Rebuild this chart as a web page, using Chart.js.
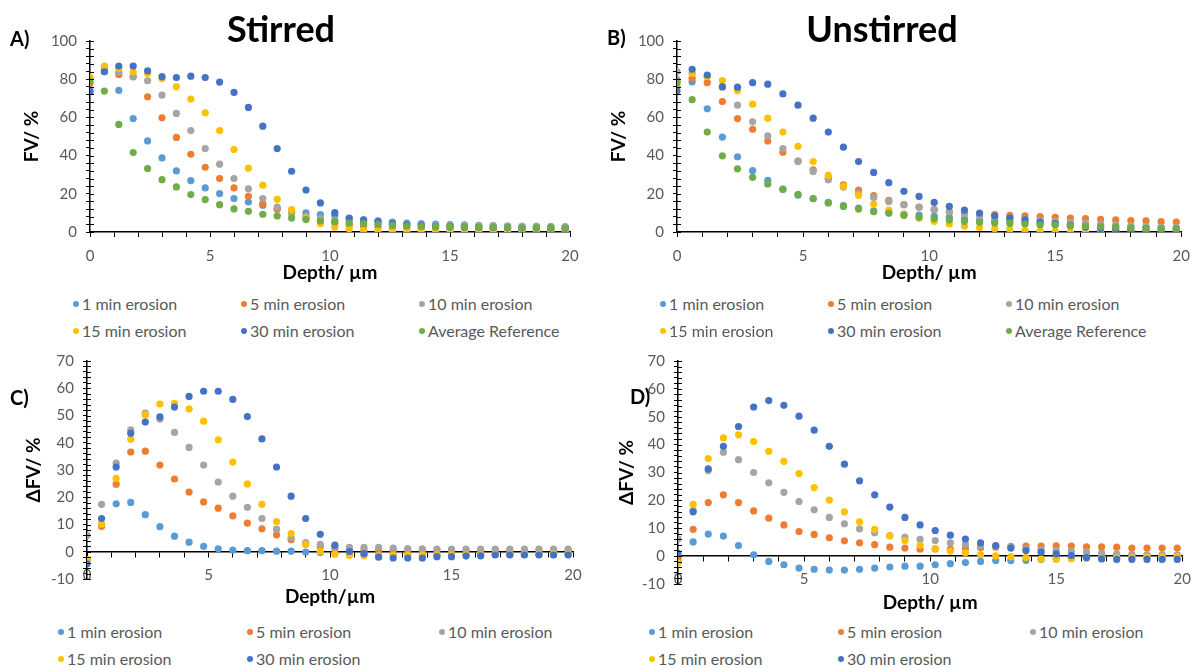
<!DOCTYPE html>
<html>
<head>
<meta charset="utf-8">
<title>FV depth profiles - stirred vs unstirred</title>
<script src="https://cdn.jsdelivr.net/npm/chart.js@4.4.0/dist/chart.umd.min.js"></script>
<style>
  body { margin: 0; background: #fff; font-family: Lato, 'Open Sans', sans-serif; }
  #page { position: relative; width: 1200px; height: 668px; overflow: hidden; background: #fff; }
  .panel { position: absolute; }
  .heading { position: absolute; font-weight: bold; font-size: 36px; line-height: 36px; color: #000; transform: translateX(-50%); white-space: nowrap; }
  .tag { position: absolute; font-weight: bold; font-size: 20px; line-height: 20px; color: #000; }
  .legend-item { position: absolute; font-size: 16px; line-height: 18px; color: #595959; white-space: nowrap; transform: translateY(-50%); }
  .legend-item .dot { position: absolute; left: -9px; top: 6px; width: 6px; height: 6px; border-radius: 50%; }
</style>
</head>
<body>
<div id="page">
  <div class="panel" id="panelA"><canvas id="chartA"></canvas></div>
  <div class="panel" id="panelB"><canvas id="chartB"></canvas></div>
  <div class="panel" id="panelC"><canvas id="chartC"></canvas></div>
  <div class="panel" id="panelD"><canvas id="chartD"></canvas></div>

  <div class="heading" style="left:281px;top:10px">Stirred</div>
  <div class="heading" style="left:882px;top:10px">Unstirred</div>
  <div class="tag" style="left:10px;top:28px">A)</div>
  <div class="tag" style="left:607px;top:27px">B)</div>
  <div class="tag" style="left:10px;top:387px">C)</div>
  <div class="tag" style="left:630px;top:386px">D)</div>
</div>

<script>
// Depth (µm) - shared x values for every panel
const depth = [0, 0.6, 1.2, 1.8, 2.4, 3.0, 3.6, 4.2, 4.8, 5.4, 6.0, 6.6, 7.2, 7.8, 8.4, 9.0, 9.6,
  10.2, 10.8, 11.4, 12.0, 12.6, 13.2, 13.8, 14.4, 15.0, 15.6, 16.2, 16.8, 17.4, 18.0, 18.6, 19.2, 19.8];

const seriesLabels = ['1 min erosion', '5 min erosion', '10 min erosion', '15 min erosion', '30 min erosion', 'Average Reference'];
const seriesColors = ['#5B9BD5', '#ED7D31', '#A5A5A5', '#FFC000', '#4472C4', '#70AD47'];

// Tick labels
const depthTicks = [0, 5, 10, 15, 20];
const fvTicks = [0, 20, 40, 60, 80, 100];
const dfvTicks = [-10, 0, 10, 20, 30, 40, 50, 60, 70];

// A) Stirred - FV / %
const fvStirred1 = [74.3, 84.0, 74.1, 59.4, 47.7, 38.8, 32.0, 26.9, 23.1, 20.1, 17.5, 15.7, 14.0, 12.2, 10.8, 10.0, 9.1, 8.6, 7.0, 6.5, 5.8, 5.2, 4.7, 4.4, 4.1, 3.9, 3.7, 3.5, 3.3, 3.1, 3.0, 2.9, 2.8, 2.7];
const fvStirred5 = [77.8, 85.5, 82.5, 81.3, 70.8, 59.8, 49.5, 40.7, 33.9, 28.0, 23.1, 18.7, 14.7, 11.9, 10.0, 7.9, 5.8, 4.7, 3.5, 3.0, 2.6, 2.3, 2.1, 1.9, 1.8, 1.7, 1.6, 1.5, 1.5, 1.4, 1.4, 1.3, 1.3, 1.2];
const fvStirred10 = [80.4, 86.5, 83.6, 81.3, 79.2, 71.7, 62.1, 53.1, 43.7, 35.5, 28.0, 22.6, 17.5, 13.1, 10.0, 8.2, 7.0, 6.1, 5.2, 4.8, 4.4, 4.1, 3.9, 3.7, 3.5, 3.4, 3.3, 3.2, 3.1, 3.0, 2.9, 2.9, 2.8, 2.8];
const fvStirred15 = [81.0, 86.9, 85.7, 83.9, 83.0, 80.4, 76.0, 69.6, 62.4, 53.1, 43.2, 33.4, 24.5, 17.1, 11.7, 7.3, 4.4, 2.6, 1.6, 0.9, 0.6, 0.5, 0.4, 0.4, 0.3, 0.3, 0.3, 0.3, 0.3, 0.2, 0.2, 0.2, 0.2, 0.2];
const fvStirred30 = [73.4, 83.9, 86.9, 86.9, 84.4, 81.3, 80.9, 81.6, 80.9, 78.5, 73.1, 65.2, 55.4, 43.7, 31.8, 22.0, 15.2, 10.1, 7.3, 6.1, 5.6, 4.4, 3.8, 3.5, 3.0, 2.8, 2.6, 2.4, 2.3, 2.2, 2.1, 2.0, 2.0, 1.9];
const fvStirredRef = [79.0, 73.8, 56.3, 41.6, 33.2, 27.4, 23.6, 19.6, 17.0, 14.3, 12.1, 10.8, 9.3, 8.4, 7.3, 6.5, 5.8, 5.4, 4.7, 4.4, 4.0, 3.5, 3.1, 2.9, 2.7, 2.6, 2.5, 2.4, 2.3, 2.2, 2.1, 2.0, 2.0, 1.9];

// B) Unstirred - FV / %
const fvUnstirred1 = [79.6, 78.6, 64.5, 49.7, 39.4, 32.1, 27.0, 22.5, 19.3, 17.5, 15.5, 13.8, 12.5, 11.1, 10.3, 9.4, 8.9, 8.2, 7.7, 7.0, 6.4, 5.8, 5.3, 4.8, 4.4, 4.0, 3.6, 3.3, 3.0, 2.8, 2.6, 2.4, 2.2, 2.0];
const fvUnstirred5 = [78.7, 80.5, 78.2, 68.3, 59.4, 53.8, 47.7, 41.8, 37.1, 32.6, 28.2, 24.7, 22.0, 19.0, 16.6, 14.3, 13.1, 11.7, 10.5, 9.9, 9.4, 9.1, 8.7, 8.5, 8.0, 7.7, 7.3, 7.0, 6.6, 6.3, 6.0, 5.8, 5.4, 5.2];
const fvUnstirred10 = [84.0, 83.0, 81.5, 75.8, 66.4, 57.7, 50.3, 43.6, 37.1, 31.7, 27.4, 23.5, 20.4, 18.1, 16.0, 14.3, 12.9, 11.7, 10.6, 9.6, 8.5, 7.8, 7.3, 6.8, 6.1, 5.6, 5.1, 4.5, 4.0, 3.7, 3.3, 3.0, 2.6, 2.4];
const fvUnstirred15 = [76.0, 83.1, 81.4, 79.3, 74.0, 66.9, 59.6, 52.3, 44.9, 36.9, 29.6, 23.9, 19.2, 14.6, 11.5, 9.1, 7.3, 5.6, 4.2, 3.0, 2.3, 1.7, 1.2, 0.9, 0.5, 0.3, 0.1, 0.1, 0.0, 0.0, 0.0, 0.0, 0.0, 0.0];
const fvUnstirred30 = [73.9, 85.2, 82.2, 76.1, 75.8, 78.2, 77.4, 72.3, 66.4, 59.6, 52.3, 44.4, 36.9, 31.2, 25.8, 21.3, 18.6, 15.5, 13.4, 11.5, 9.9, 8.5, 7.3, 6.3, 5.2, 4.4, 3.5, 2.6, 1.7, 1.2, 0.9, 0.7, 0.5, 0.3];
const fvUnstirredRef = [77.9, 69.3, 52.3, 39.9, 33.1, 28.6, 25.1, 22.3, 19.7, 17.4, 15.2, 13.4, 12.0, 10.6, 9.8, 8.7, 7.7, 7.0, 6.3, 5.6, 5.1, 4.7, 4.5, 4.2, 3.8, 3.7, 3.3, 3.1, 2.8, 2.6, 2.2, 1.9, 1.8, 1.6];

// C) Stirred - ΔFV / %
const dfvStirred1 = [-3.0, 10.0, 17.6, 18.1, 13.6, 9.2, 5.7, 3.5, 2.0, 1.1, 0.6, 0.4, 0.4, 0.2, 0.2, -0.1, -0.3, -0.5, -0.6, -0.7, -0.8, -0.9, -1.0, -1.0, -1.0, -1.0, -1.0, -1.0, -1.0, -0.9, -0.9, -0.9, -0.8, -0.8];
const dfvStirred5 = [-3.0, 9.3, 24.8, 36.6, 36.9, 31.8, 26.7, 21.9, 18.3, 16.0, 13.2, 10.5, 8.4, 6.2, 4.4, 3.0, 1.9, 1.2, 0.8, 0.6, 0.5, 0.4, 0.4, 0.3, 0.3, 0.3, 0.3, 0.3, 0.3, 0.3, 0.3, 0.3, 0.3, 0.3];
const dfvStirred10 = [6.1, 17.4, 32.5, 44.7, 50.9, 48.7, 43.8, 38.3, 31.8, 25.6, 20.4, 16.3, 12.2, 8.3, 5.1, 3.4, 2.7, 1.7, 1.6, 1.6, 1.6, 1.3, 1.2, 1.1, 1.0, 1.0, 1.0, 1.0, 1.0, 1.0, 1.0, 1.0, 1.0, 1.0];
const dfvStirred15 = [-2.9, 10.1, 26.9, 41.3, 50.2, 54.2, 54.5, 52.4, 47.9, 41.1, 32.9, 24.9, 17.4, 11.1, 6.7, 2.7, 0.1, -0.9, -1.3, -1.5, -1.4, -1.3, -1.3, -1.2, -1.2, -1.2, -1.1, -1.1, -1.0, -1.0, -1.0, -0.9, -0.9, -0.9];
const dfvStirred30 = [-4.4, 12.2, 31.1, 43.5, 47.6, 49.5, 53.1, 57.0, 58.9, 58.9, 55.9, 49.6, 41.4, 31.1, 20.4, 12.2, 6.4, 2.4, 0.1, -0.7, -2.0, -2.3, -2.3, -2.3, -1.8, -1.8, -1.6, -1.5, -1.2, -1.2, -1.2, -1.2, -1.2, -1.2];

// D) Unstirred - ΔFV / %
const dfvUnstirred1 = [-1.5, 5.1, 7.9, 7.2, 3.8, 0.5, -1.9, -3.1, -4.3, -4.7, -5.0, -5.0, -4.7, -4.3, -3.9, -3.6, -3.6, -3.1, -2.7, -2.3, -1.9, -1.6, -1.6, -1.5, -1.2, -1.0, -0.8, -0.4, -0.2, 0.0, 0.1, 0.2, 0.3, 0.3];
const dfvUnstirred5 = [-0.4, 9.6, 19.2, 22.0, 19.2, 16.2, 13.6, 11.2, 8.8, 7.8, 6.6, 5.5, 4.8, 4.1, 3.2, 2.9, 2.5, 2.6, 2.5, 2.7, 3.0, 3.2, 3.5, 3.6, 3.6, 3.7, 3.6, 3.3, 3.3, 3.2, 2.9, 2.9, 2.9, 2.9];
const dfvUnstirred10 = [6.2, 16.4, 30.7, 37.3, 34.6, 30.0, 26.3, 22.9, 19.6, 16.6, 13.9, 11.6, 9.8, 8.4, 7.4, 6.8, 6.0, 5.6, 4.8, 4.2, 3.7, 3.6, 3.2, 2.6, 2.3, 2.0, 1.8, 1.4, 1.1, 0.8, 0.6, 0.5, 0.5, 0.5];
const dfvUnstirred15 = [-2.5, 18.6, 35.0, 42.4, 43.5, 41.1, 37.6, 34.0, 29.6, 24.6, 20.1, 15.9, 12.3, 9.6, 7.2, 5.6, 3.9, 2.7, 1.8, 1.2, 0.5, 0.1, -0.2, -0.5, -1.0, -1.0, -0.9, -0.8, -0.7, -0.6, -0.5, -0.3, -0.2, -0.1];
const dfvUnstirred30 = [1.1, 15.9, 31.3, 39.4, 46.5, 53.5, 55.8, 54.1, 50.2, 45.2, 39.4, 33.0, 27.0, 22.0, 17.6, 13.9, 11.2, 9.2, 7.5, 6.1, 4.8, 3.8, 2.9, 2.0, 1.4, 0.8, 0.2, -0.5, -1.0, -1.2, -1.2, -1.2, -1.2, -1.2];

const FONT = 'Lato, "Open Sans", sans-serif';

// Excel draws the y tick marks across the axis: add the inner half
const crossTicks = {
  id: 'crossTicks',
  afterDraw(chart) {
    const y = chart.scales.y;
    const ctx = chart.ctx;
    const x0 = chart.chartArea.left;
    ctx.save();
    ctx.strokeStyle = '#000';
    ctx.lineWidth = 1;
    y.ticks.forEach(t => {
      const py = Math.round(y.getPixelForValue(t.value)) + 0.5;
      ctx.beginPath();
      ctx.moveTo(x0, py);
      ctx.lineTo(x0 + 4, py);
      ctx.stroke();
    });
    ctx.restore();
  }
};

// Build one scatter panel so that its plot area lands where the reference has it
function makePanel(cfg) {
  const wrap = document.getElementById(cfg.id);
  const b = cfg.box;
  wrap.style.left = b.left + 'px';
  wrap.style.top = b.top + 'px';
  const canvas = wrap.querySelector('canvas');
  canvas.width = b.width;
  canvas.height = b.height;
  canvas.style.width = b.width + 'px';
  canvas.style.height = b.height + 'px';

  const yWidth = cfg.plot.left - b.left;
  const padBottom = b.top + b.height - cfg.plot.bottom - (cfg.xAtZero ? 0 : cfg.xHeight);

  const datasets = cfg.series.map((values, i) => ({
    label: seriesLabels[i],
    data: depth.map((d, j) => ({ x: d, y: values[j] })),
    backgroundColor: seriesColors[i],
    borderColor: seriesColors[i],
    pointRadius: 3.6,
    pointBorderWidth: 0,
    pointHoverRadius: 3.6,
    showLine: false,
    order: cfg.series.length - i // later series on top, like Excel
  }));

  new Chart(canvas, {
    type: 'scatter',
    data: { datasets },
    plugins: [crossTicks],
    options: {
      responsive: false,
      animation: false,
      devicePixelRatio: 1,
      events: [],
      layout: {
        padding: { left: 0, top: cfg.plot.top - b.top, right: b.left + b.width - cfg.plot.right, bottom: padBottom }
      },
      plugins: { legend: { display: false }, tooltip: { enabled: false } },
      scales: {
        x: {
          type: 'linear',
          min: 0,
          max: 20,
          position: cfg.xAtZero ? { y: 0 } : 'bottom',
          afterFit: s => { s.height = cfg.xHeight; },
          ticks: {
            stepSize: 1,
            autoSkip: false,
            maxRotation: 0,
            padding: cfg.xTickPad,
            color: '#595959',
            font: { family: FONT, size: 15 },
            callback: v => (depthTicks.includes(v) ? v : '')
          },
          grid: { drawOnChartArea: false, drawTicks: true, tickLength: 5, tickColor: '#000' },
          border: { color: '#000', width: 1.5 },
          title: {
            display: true,
            text: cfg.xTitle,
            color: '#000',
            font: { family: FONT, size: 19, weight: 'bold' },
            padding: { top: 0, bottom: 0 }
          }
        },
        y: {
          type: 'linear',
          min: cfg.yMin,
          max: cfg.yMax,
          afterFit: s => { s.width = yWidth; },
          ticks: {
            stepSize: cfg.yStep,
            autoSkip: false,
            padding: 9,
            color: '#595959',
            font: { family: FONT, size: 15 },
            callback: v => (cfg.yTicks.includes(v) ? v : '')
          },
          grid: { drawOnChartArea: false, drawTicks: true, tickLength: 4, tickColor: '#000' },
          border: { color: '#000', width: 1.5 },
          title: {
            display: true,
            text: cfg.yTitle,
            color: '#000',
            font: { family: FONT, size: 19, weight: 'bold' },
            padding: { top: cfg.yTitlePad, bottom: 0 }
          }
        }
      }
    }
  });
}

// HTML legend laid out in three columns like the reference
function makeLegend(count, cols, rows) {
  const page = document.getElementById('page');
  for (let i = 0; i < count; i++) {
    const item = document.createElement('div');
    item.className = 'legend-item';
    item.style.left = cols[i % 3] + 'px';
    item.style.top = rows[Math.floor(i / 3)] + 'px';
    item.innerHTML = `<span class="dot" style="background:${seriesColors[i]}"></span>${seriesLabels[i]}`;
    page.appendChild(item);
  }
}

makePanel({
  id: 'panelA', box: { left: 0, top: 0, width: 600, height: 290 },
  plot: { left: 90, right: 570, top: 41, bottom: 232 },
  xHeight: 52, xTickPad: 10, xAtZero: false,
  yMin: 0, yMax: 100, yStep: 4, yTicks: fvTicks,
  xTitle: 'Depth/ µm', yTitle: 'FV/ %', yTitlePad: 20,
  series: [fvStirred1, fvStirred5, fvStirred10, fvStirred15, fvStirred30, fvStirredRef]
});

makePanel({
  id: 'panelB', box: { left: 600, top: 0, width: 600, height: 290 },
  plot: { left: 677, right: 1186, top: 41, bottom: 232 },
  xHeight: 52, xTickPad: 10, xAtZero: false,
  yMin: 0, yMax: 100, yStep: 4, yTicks: fvTicks,
  xTitle: 'Depth/ µm', yTitle: 'FV/ %', yTitlePad: 7,
  series: [fvUnstirred1, fvUnstirred5, fvUnstirred10, fvUnstirred15, fvUnstirred30, fvUnstirredRef]
});

makePanel({
  id: 'panelC', box: { left: 0, top: 340, width: 600, height: 280 },
  plot: { left: 87, right: 573, top: 361, bottom: 579 },
  xHeight: 57, xTickPad: 9, xAtZero: true,
  yMin: -10, yMax: 70, yStep: 2, yTicks: dfvTicks,
  xTitle: 'Depth/µm', yTitle: 'ΔFV/ %', yTitlePad: 22,
  series: [dfvStirred1, dfvStirred5, dfvStirred10, dfvStirred15, dfvStirred30]
});

makePanel({
  id: 'panelD', box: { left: 600, top: 340, width: 600, height: 280 },
  plot: { left: 678, right: 1186, top: 361, bottom: 584 },
  xHeight: 58, xTickPad: 9, xAtZero: true,
  yMin: -10, yMax: 70, yStep: 2, yTicks: dfvTicks,
  xTitle: 'Depth/ µm', yTitle: 'ΔFV/ %', yTitlePad: 15,
  series: [dfvUnstirred1, dfvUnstirred5, dfvUnstirred10, dfvUnstirred15, dfvUnstirred30]
});

makeLegend(6, [82, 250, 428], [304, 331]);
makeLegend(6, [669, 837, 1015], [304, 331]);
makeLegend(5, [67, 256, 448], [632, 659]);
makeLegend(5, [658, 847, 1039], [632, 659]);
</script>
</body>
</html>
